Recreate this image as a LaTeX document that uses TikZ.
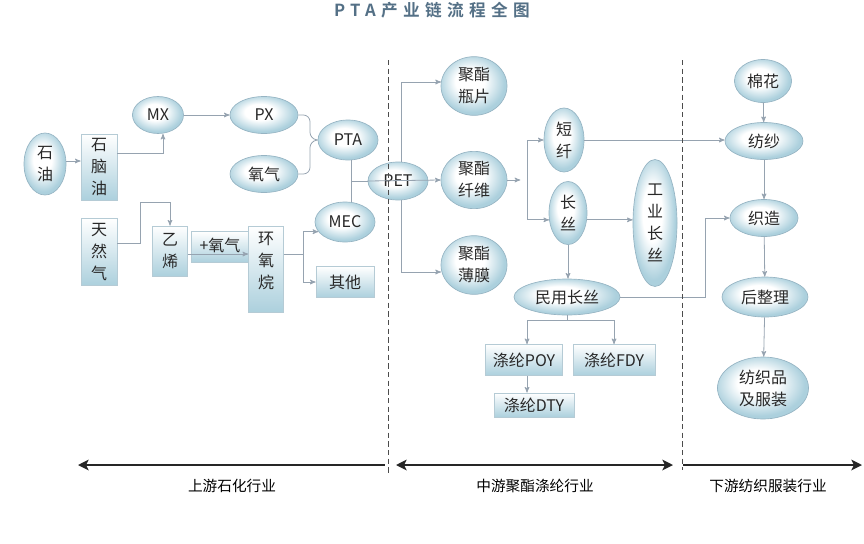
\documentclass[tikz,border=0pt]{standalone}
\usepackage{fontspec}
\setmainfont{Noto Sans CJK SC}
\newfontfamily\titlefont{Noto Sans CJK SC Bold}[LetterSpace=32]
\usepackage{xcolor}
\usepackage{tikz}
\usetikzlibrary{arrows,arrows.meta,shapes.geometric}

\definecolor{nodeblue}{RGB}{172,208,221}
\definecolor{nodeedge}{RGB}{150,180,195}
\definecolor{linkgrey}{RGB}{150,163,176}
\definecolor{titleblue}{RGB}{84,112,134}
\definecolor{textgrey}{RGB}{40,40,40}

\pgfdeclareradialshading{ovalshade}{\pgfpoint{-4bp}{5bp}}{color(0bp)=(white); color(11bp)=(white); color(25bp)=(nodeblue); color(50bp)=(nodeblue)}

\begin{document}
\begin{tikzpicture}[x=0.75pt,y=-0.75pt,->,>=stealth',
    every node/.style={text=textgrey, inner sep=0pt, align=center,
                       font=\fontsize{12}{16.5}\selectfont},
    oval/.style={ellipse, draw=nodeedge, line width=0.5pt, shading=ovalshade},
    box/.style={rectangle, draw=nodeedge!70, line width=0.5pt,
                top color=white, bottom color=nodeblue},
    link/.style={draw=linkgrey, line width=0.6pt, ->},
    line/.style={draw=linkgrey, line width=0.6pt, -},
    divider/.style={draw=black!70, line width=0.5pt, dash pattern=on 4pt off 2.5pt, -},
    axis/.style={draw=black!85, line width=1.4pt,
                 >={Stealth[length=8pt,width=8pt,inset=2pt]}},
    sector/.style={text=black, font=\fontsize{11}{13}\selectfont}
    ]

    \useasboundingbox (0,0) rectangle (864,543);

    \node[text=titleblue,
          font=\titlefont\fontsize{12.5}{14}\selectfont
          ] (title) at (432,10) {PTA产业链流程全图};

    % upstream
    \node[oval,
          minimum width = 31.5pt,
          minimum height = 46.5pt
          ] (oil) at (45,164) {石\\油};

    \node[box,
          minimum width = 27pt,
          minimum height = 49.5pt
          ] (naphtha) at (99,167) {石\\脑\\油};

    \node[oval,
          minimum width = 38.25pt,
          minimum height = 27.75pt
          ] (mx) at (158,115) {MX};

    \node[oval,
          minimum width = 51pt,
          minimum height = 27.75pt
          ] (px) at (264,115) {PX};

    \node[oval,
          minimum width = 51pt,
          minimum height = 27.75pt
          ] (oxy) at (264,174) {氧气};

    \node[oval,
          minimum width = 45pt,
          minimum height = 30pt
          ] (pta) at (348,140) {PTA};

    \node[oval,
          minimum width = 45pt,
          minimum height = 30pt
          ] (mec) at (345,222) {MEC};

    \node[box,
          minimum width = 27pt,
          minimum height = 50.25pt
          ] (gas) at (99,252) {天\\然\\气};

    \node[box,
          minimum width = 26.25pt,
          minimum height = 37.5pt
          ] (eth) at (170,251) {乙\\烯};

    \node[box,
          minimum width = 42.75pt,
          minimum height = 23.25pt
          ] (plusoxy) at (220,247) {};
    \node[] (plusoxytext) at (220,245) {+氧气};

    \node[box,
          minimum width = 26.25pt,
          minimum height = 64.5pt
          ] (eo) at (266,269) {};
    \node[] (eotext) at (266,261) {环\\氧\\烷};

    \node[box,
          minimum width = 43.5pt,
          minimum height = 23.25pt
          ] (other) at (345,282) {其他};

    \coordinate (ptajn) at (351,181);
    \coordinate (eojn) at (303,254);
    \coordinate (petjn) at (401,181);

    % midstream
    \draw[link] (petjn) |- (401,82) -- (441,82);
    \draw[link] (petjn) |- (401,272) -- (441,272);

    \node[oval,
          minimum width = 45pt,
          minimum height = 28.5pt
          ] (pet) at (398,181) {PET};

    \node[oval,
          minimum width = 49.5pt,
          minimum height = 44pt
          ] (bottle) at (474,86) {聚酯\\瓶片};

    \node[oval,
          minimum width = 49.5pt,
          minimum height = 43pt
          ] (fiber) at (474,180) {聚酯\\纤维};

    \node[oval,
          minimum width = 49.5pt,
          minimum height = 44pt
          ] (film) at (474,265) {聚酯\\薄膜};

    \node[oval,
          minimum width = 30pt,
          minimum height = 48pt
          ] (staple) at (564,140) {短\\纤};

    \node[oval,
          minimum width = 28.5pt,
          minimum height = 47.25pt
          ] (filament) at (568,213) {长\\丝};

    \node[oval,
          minimum width = 33pt,
          minimum height = 95.25pt
          ] (indfil) at (655,223) {工\\业\\长\\丝};

    \node[oval,
          minimum width = 79.5pt,
          minimum height = 27pt
          ] (civfil) at (567,297) {民用长丝};

    \node[box,
          minimum width = 57.75pt,
          minimum height = 23.25pt
          ] (poy) at (524,360) {涤纶POY};

    \node[box,
          minimum width = 61.5pt,
          minimum height = 23.25pt
          ] (fdy) at (614,360) {涤纶FDY};

    \node[box,
          minimum width = 60pt,
          minimum height = 18pt
          ] (dty) at (534,405) {涤纶DTY};

    \coordinate (fibjn) at (527,181);
    \coordinate (civjn) at (705,297);
    \coordinate (civsplit) at (567,320);

    % downstream
    \node[oval,
          minimum width = 42.75pt,
          minimum height = 32.25pt
          ] (cotton) at (763,81) {棉花};

    \node[oval,
          minimum width = 58.5pt,
          minimum height = 27.75pt
          ] (spin) at (764,141) {纺纱};

    \node[oval,
          minimum width = 51pt,
          minimum height = 27.75pt
          ] (weave) at (764,218) {织造};

    \node[oval,
          minimum width = 64.5pt,
          minimum height = 30pt
          ] (finish) at (765,297) {后整理};

    \node[oval,
          minimum width = 68.25pt,
          minimum height = 46.5pt
          ] (apparel) at (763,388) {纺织品\\及服装};

    % connectors
    \draw[link] ([yshift=2.25pt]oil.east) -- ([yshift=2.25pt]oil.east -| naphtha.west);
    \draw[link] ([yshift=10.5pt]naphtha.east) -| ([xshift=3.75pt]mx.south);
    \draw[link] (mx) -- (px);
    \draw[line, rounded corners=5pt] (px.east) -| (310,139) -- (pta.west);
    \draw[line, rounded corners=5pt] (oxy.east) -| (310,141) -- (pta.west);
    \draw[line] (ptajn |- pta.south) -- (ptajn |- mec.north);
    \draw[line] (ptajn) -- (pet.west);
    \draw[link] ([yshift=6.75pt]gas.east) -| (140,202) -| (eth.north);
    \draw[link] ([yshift=-2.25pt]eth.east) -- ([yshift=-2.25pt]eth.east -| eo.west);
    \draw[line] (eo.east |- eojn) -- (eojn);
    \draw[link] (eojn) |- (mec.200);
    \draw[link] (eojn) |- (other.west);

    \draw[link] (pet.west) -- (fiber.west);
    \draw[link] (fiber.east) -- ++(13,0);
    \draw[line] (fibjn |- staple.west) -- (fibjn |- filament.200);
    \draw[link] (fibjn |- staple.west) -- (staple.west);
    \draw[link] (fibjn |- filament.200) -- (filament.200);
    \draw[link] (filament.340) -- (filament.340 -| indfil.west);
    \draw[link] (filament.south) -- (filament.south |- civfil.north);
    \draw[line] (civfil.south) -- (civsplit);
    \draw[link] (civsplit) -| ([xshift=2.25pt]poy.north);
    \draw[link] (civsplit) -| (fdy.north);
    \draw[link] ([xshift=2.25pt]poy.south) -- ([xshift=2.25pt]poy.south |- dty.north);

    \draw[link] (staple.east) -- (staple.east -| spin.west);
    \draw[link] (civfil.east) -- (civjn) |- (weave.west);
    \draw[link] (cotton) -- (spin);
    \draw[link] (spin) -- (weave);
    \draw[link] (weave) -- (finish);
    \draw[link] (finish) -- (apparel);

    % sectors
    \draw[divider] (388,60) -- (388,475);
    \draw[divider] (682,60) -- (682,470);

    \coordinate (upL) at (78,465);
    \coordinate (upR) at (385,465);
    \coordinate (midL) at (396,465);
    \coordinate (midR) at (673,465);
    \coordinate (downL) at (683,465);
    \coordinate (downR) at (862,465);

    \draw[axis, <-] (upL) -- (upR);
    \draw[axis, <->] (midL) -- (midR);
    \draw[axis, ->] (downL) -- (downR);

    \node[sector] (upname) at (232,486) {上游石化行业};
    \node[sector] (midname) at (535,486) {中游聚酯涤纶行业};
    \node[sector] (downname) at (768,486) {下游纺织服装行业};

\end{tikzpicture}
\end{document}
